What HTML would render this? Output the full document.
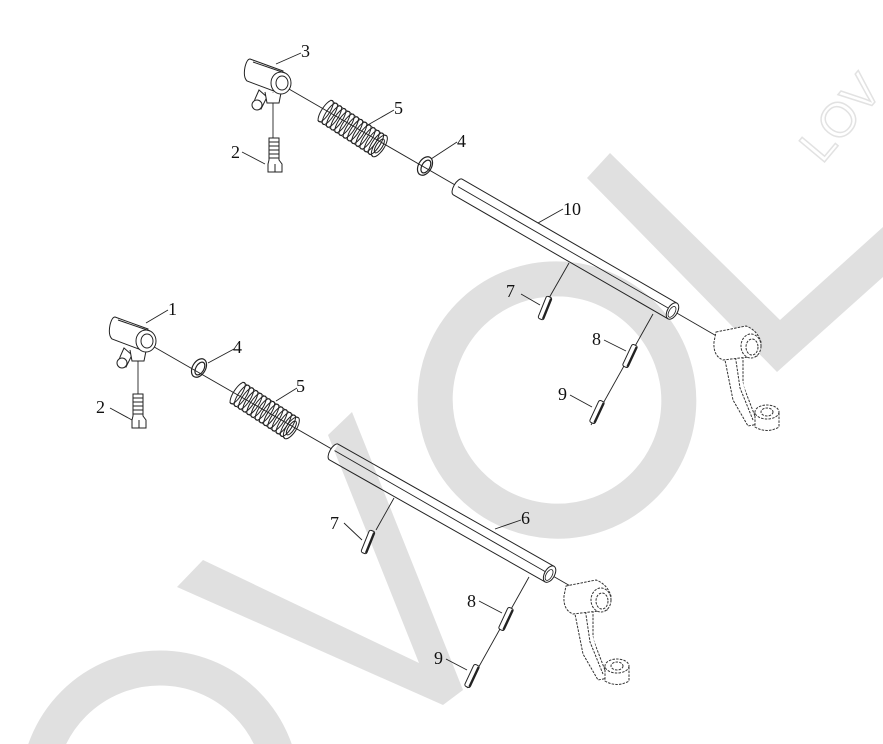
<!DOCTYPE html>
<html><head><meta charset="utf-8"><style>
html,body{margin:0;padding:0;background:#fff;width:883px;height:744px;overflow:hidden;}
svg{display:block;overflow:hidden;}
text{font-family:"Liberation Serif",serif;font-size:18px;fill:#111;}
</style></head><body>
<svg width="883" height="744" viewBox="0 0 883 744" xmlns="http://www.w3.org/2000/svg">
<defs>
 <clipPath id="cp"><rect x="0" y="0" width="883" height="744"/></clipPath>
 <g id="spring">
  <path d="M0,-12 L66,-12 M0,12 L66,12" stroke="#333" stroke-width="0.8" fill="none"/>
  <g fill="none" stroke="#222" stroke-width="1">
   <ellipse cx="2" cy="0" rx="4" ry="12.5"/><ellipse cx="7" cy="0" rx="4" ry="12.5"/>
   <ellipse cx="12" cy="0" rx="4" ry="12.5"/><ellipse cx="17" cy="0" rx="4" ry="12.5"/>
   <ellipse cx="22" cy="0" rx="4" ry="12.5"/><ellipse cx="27" cy="0" rx="4" ry="12.5"/>
   <ellipse cx="32" cy="0" rx="4" ry="12.5"/><ellipse cx="37" cy="0" rx="4" ry="12.5"/>
   <ellipse cx="42" cy="0" rx="4" ry="12.5"/><ellipse cx="47" cy="0" rx="4" ry="12.5"/>
   <ellipse cx="52" cy="0" rx="4" ry="12.5"/><ellipse cx="57" cy="0" rx="4" ry="12.5"/>
   <ellipse cx="62" cy="0" rx="4" ry="12.5"/><ellipse cx="66" cy="0" rx="5" ry="12.5"/>
   <ellipse cx="66" cy="0" rx="3" ry="8"/>
  </g>
 </g>
 <g id="rod">
  <path d="M2,-9 L250,-9 M2,9 L250,9 M2,-9 A4,9 0 0 0 2,9" stroke="#222" stroke-width="1" fill="#fff"/>
  <ellipse cx="250" cy="0" rx="5" ry="9" fill="#fff" stroke="#222" stroke-width="1"/>
  <ellipse cx="250" cy="1" rx="3" ry="6" fill="none" stroke="#222" stroke-width="0.8"/>
 </g>
 <g id="washer" fill="none" stroke="#222" stroke-width="1.2">
  <ellipse cx="0" cy="0" rx="6.5" ry="10"/><ellipse cx="1" cy="0" rx="4" ry="7"/>
 </g>
 <g id="pin">
  <rect x="-3" y="-12" width="6" height="24" rx="2" fill="#fff" stroke="#222" stroke-width="1"/>
  <line x1="2" y1="-11" x2="2" y2="11" stroke="#222" stroke-width="1.8"/>
 </g>
 <g id="block" fill="#fff" stroke="#222" stroke-width="1">
  <path d="M14,31 L10,40 Q8,46 13,48 L16,50 L22,38 Z"/>
  <circle cx="12" cy="46" r="5"/>
  <path d="M20,33 L22,44 L34,44 L36,34"/>
  <path d="M5,0 L38,12 L34,34 L2,22 Q-2,18 0,8 Q2,0 5,0 Z"/>
  <ellipse cx="36" cy="24" rx="10" ry="11"/>
  <ellipse cx="37" cy="24" rx="6" ry="7"/>
  <path d="M8,3 L40,14" />
 </g>
 <g id="bolt" fill="#fff" stroke="#222" stroke-width="1">
  <path d="M-5,0 L5,0 L5,22 L8,26 L8,34 L-6,34 L-6,26 L-5,22 Z"/>
  <path d="M-5,4 L5,4 M-5,8 L5,8 M-5,12 L5,12 M-5,16 L5,16 M-5,20 L5,20" stroke-width="0.9"/>
  <path d="M1,26 L1,34" />
 </g>
 <g id="lever" fill="#fff" stroke="#333" stroke-width="1" stroke-dasharray="2.5,1.2">
  <path d="M10,20 L20,70 L35,96 L45,94 L30,55 L30,24 Z"/>
  <path d="M22,24 L27,58 L40,90" />
  <path d="M3,2 L33,-4 Q44,0 48,12 L44,26 L10,30 Q0,26 1,12 Z"/>
  <ellipse cx="38" cy="16" rx="10" ry="12"/>
  <ellipse cx="39" cy="17" rx="6" ry="8"/>
  <path d="M42,82 L42,97 Q54,104 66,97 L66,82"/>
  <ellipse cx="54" cy="82" rx="12" ry="7"/>
  <ellipse cx="54" cy="82" rx="6" ry="4"/>
 </g>
</defs>

<g clip-path="url(#cp)">
<g fill="#e0e0e0" stroke="none">
 <polygon points="587,178 610,153 780,320 883,227 883,277 777,372"/>
 <polygon points="177,587 203,560 419,663 328,435 352,412 463,690 443,705"/>
</g>
<g fill="none" stroke="#e0e0e0">
 <ellipse cx="557" cy="400" rx="122" ry="121" stroke-width="35" transform="rotate(25 557 400)"/>
 <circle cx="160" cy="790" r="122" stroke-width="35"/>
</g>
<text x="0" y="0" transform="translate(822,165) rotate(-50)" style="font-family:'Liberation Sans',sans-serif;font-size:48px;fill:none;stroke:#e2e2e2;stroke-width:1.5">LOV</text>
</g>

<g stroke="#222" stroke-width="0.9" fill="none">
 <line x1="282" y1="85" x2="720" y2="338"/>
 <line x1="273" y1="92" x2="273" y2="138"/>
 <line x1="569" y1="263" x2="549" y2="298"/>
 <line x1="653" y1="314" x2="591" y2="425"/>
 <path d="M276,64 L301,53"/>
 <path d="M242,152 L265,164"/>
 <path d="M366,126 L394,110"/>
 <path d="M431,159 L457,142"/>
 <path d="M538,223 L563,209"/>
 <path d="M521,294 L540,305"/>
 <path d="M604,340 L626,351"/>
 <path d="M570,395 L592,407"/>
</g>
<use href="#block" x="245" y="59"/>
<use href="#bolt" x="274" y="138"/>
<use href="#spring" transform="translate(324,110) rotate(33)"/>
<use href="#washer" transform="translate(425,166) rotate(30)"/>
<use href="#rod" transform="translate(456,186) rotate(30)"/>
<use href="#pin" transform="translate(545,308) rotate(22)"/>
<use href="#pin" transform="translate(630,356) rotate(25)"/>
<use href="#pin" transform="translate(597,412) rotate(25)"/>
<use href="#lever" x="713" y="330"/>
<text x="301" y="57">3</text>
<text x="231" y="158">2</text>
<text x="394" y="114">5</text>
<text x="457" y="147">4</text>
<text x="563" y="215">10</text>
<text x="506" y="297">7</text>
<text x="592" y="345">8</text>
<text x="558" y="400">9</text>

<g stroke="#222" stroke-width="0.9" fill="none">
 <line x1="149" y1="344" x2="572" y2="587"/>
 <line x1="138" y1="354" x2="138" y2="394"/>
 <line x1="394" y1="498" x2="376" y2="530"/>
 <line x1="529" y1="577" x2="467" y2="688"/>
 <path d="M146,323 L168,310"/>
 <path d="M110,408 L132,420"/>
 <path d="M208,363 L234,349"/>
 <path d="M276,401 L297,388"/>
 <path d="M495,529 L521,520"/>
 <path d="M344,523 L362,540"/>
 <path d="M479,601 L502,613"/>
 <path d="M446,659 L467,670"/>
</g>
<use href="#block" x="110" y="317"/>
<use href="#bolt" x="138" y="394"/>
<use href="#washer" transform="translate(199,368) rotate(30)"/>
<use href="#spring" transform="translate(236,392) rotate(33)"/>
<use href="#rod" transform="translate(332,451) rotate(29.5)"/>
<use href="#pin" transform="translate(368,542) rotate(22)"/>
<use href="#pin" transform="translate(506,619) rotate(25)"/>
<use href="#pin" transform="translate(472,676) rotate(25)"/>
<use href="#lever" x="563" y="584"/>
<text x="168" y="315">1</text>
<text x="96" y="413">2</text>
<text x="233" y="353">4</text>
<text x="296" y="392">5</text>
<text x="521" y="524">6</text>
<text x="330" y="529">7</text>
<text x="467" y="607">8</text>
<text x="434" y="664">9</text>
</svg>
</body></html>
